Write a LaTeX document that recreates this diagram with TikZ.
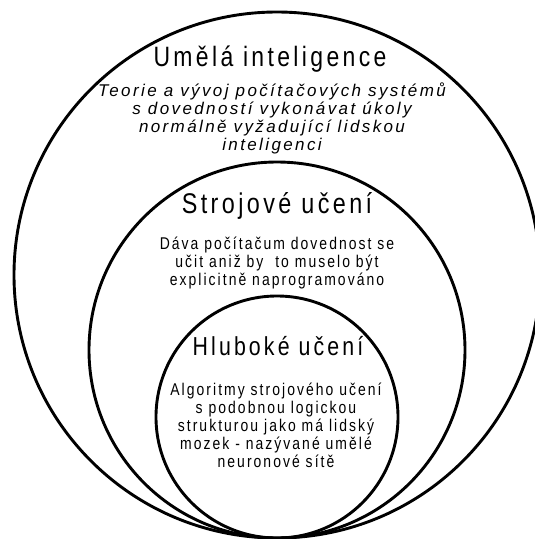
\documentclass[tikz,border=0pt]{standalone}
\usepackage{fontspec}
\setmainfont{Liberation Sans}
\newfontfamily\headfont[FakeStretch=0.82,LetterSpace=12]{Liberation Sans}
\newfontfamily\blurbfont[FakeStretch=0.82,LetterSpace=12]{Liberation Sans}
\newfontfamily\slantfont[FakeStretch=1.0,LetterSpace=14]{Liberation Sans Italic}
\usepackage{tikz}
\usetikzlibrary{positioning}

\tikzset{
    ring/.style={draw, circle, line width=2.9pt, inner sep=0pt},
    heading/.style={anchor=base, font=\headfont\fontsize{27}{29}\selectfont},
    blurb/.style={anchor=base, align=center, font=\blurbfont\fontsize{17}{18}\selectfont},
}

\begin{document}
\begin{tikzpicture}[x=1pt, y=-1pt]
        \clip (0,0) rectangle (535,539);

        \node[ring, minimum size=526pt] (AI) at (277,275) {};
        \node[ring, minimum size=376pt] (ML) at (277,350) {};
        \node[ring, minimum size=242pt] (DL) at (277,417) {};

        \node[heading, font=\headfont\fontsize{28}{30}\selectfont] (AItitle) at (270,66) {Umělá inteligence};
        \node[blurb, font=\slantfont\fontsize{17}{17.7}\selectfont] (AItext) at (272,150)
            {Teorie a vývoj počítačových systémů\\ s dovedností vykonávat úkoly\\ normálně vyžadující lidskou\\ inteligenci};

        \node[heading, font=\headfont\fontsize{28.5}{30}\selectfont] (MLtitle) at (277,213) {Strojové učení};
        \node[blurb] (MLtext) at (277,285)
            {Dáva počítačum dovednost se\\ učit aniž by\ \ to muselo být\\ explicitně naprogramováno};

        \node[heading, font=\headfont\fontsize{26}{28}\selectfont] (DLtitle) at (278,355) {Hluboké učení};
        \node[blurb] (DLtext) at (276,467)
            {Algoritmy strojového učení\\ s podobnou logickou\\ strukturou jako má lidský\\ mozek - nazývané umělé\\ neuronové sítě};
    \end{tikzpicture}
\end{document}
